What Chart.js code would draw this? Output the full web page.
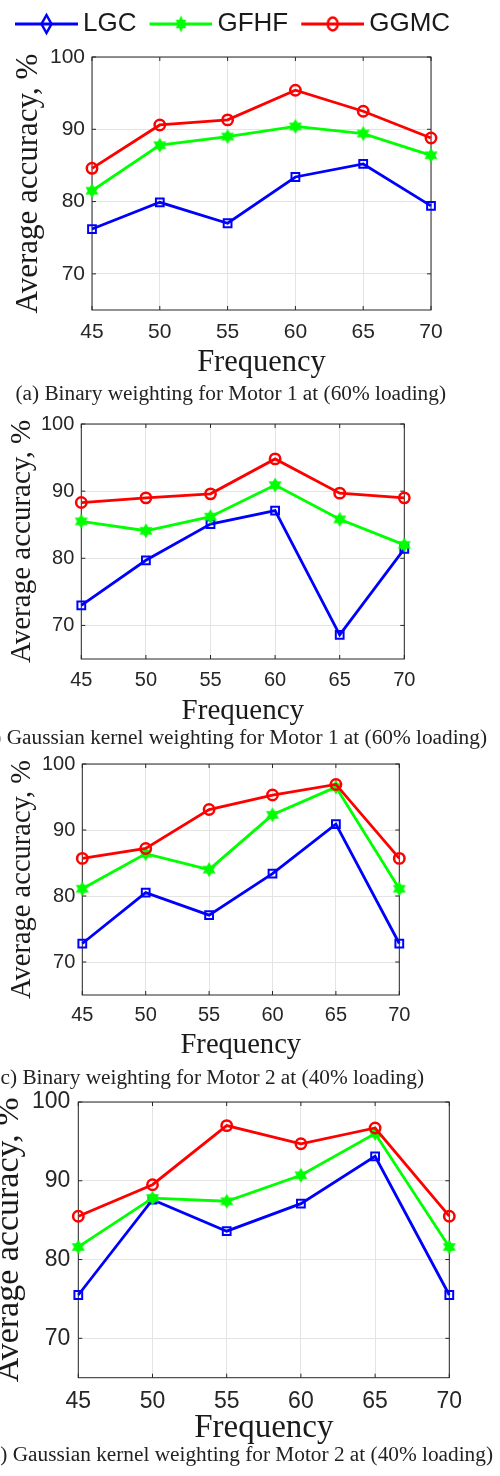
<!DOCTYPE html>
<html>
<head>
<meta charset="utf-8">
<script src="https://cdn.jsdelivr.net/npm/chart.js@4.4.1/dist/chart.umd.min.js"></script>
<style>
  html, body { margin: 0; padding: 0; background: #fff; }
  body { width: 500px; height: 1476px; position: relative; overflow: hidden; }
  canvas { position: absolute; left: 0; }
  .cap {
    position: absolute; white-space: nowrap; color: #222;
    font-family: "Liberation Serif", "Times New Roman", serif;
    font-size: 21.3px; line-height: 21.3px; transform: translateX(-100%);
  }
</style>
</head>
<body>
<canvas id="panelA"></canvas>
<canvas id="panelB"></canvas>
<canvas id="panelC"></canvas>
<canvas id="panelD"></canvas>
<div class="cap" style="left:446px; top:383px">(a) Binary weighting for Motor 1 at (60% loading)</div>
<div class="cap" style="left:487px; top:727px">(b) Gaussian kernel weighting for Motor 1 at (60% loading)</div>
<div class="cap" style="left:424px; top:1067px">(c) Binary weighting for Motor 2 at (40% loading)</div>
<div class="cap" style="left:493px; top:1444px">(d) Gaussian kernel weighting for Motor 2 at (40% loading)</div>
<script>
// Datos
const frecuencias = [45, 50, 55, 60, 65, 70];
const ticksY = [70, 80, 90, 100];
const metodos = ["LGC", "GFHF", "GGMC"];

// (a) Binary, Motor 1
const lgcA = [76.2, 79.9, 77.0, 83.4, 85.2, 79.4];
const gfhfA = [81.5, 87.8, 89.0, 90.4, 89.4, 86.4];
const ggmcA = [84.6, 90.6, 91.3, 95.4, 92.5, 88.8];
// (b) Gaussian, Motor 1
const lgcB = [73.0, 79.7, 85.1, 87.1, 68.6, 81.4];
const gfhfB = [85.5, 84.1, 86.2, 90.9, 85.8, 82.0];
const ggmcB = [88.3, 89.0, 89.6, 94.8, 89.7, 89.0];
// (c) Binary, Motor 2
const lgcC = [72.8, 80.5, 77.1, 83.4, 90.9, 72.8];
const gfhfC = [81.1, 86.4, 84.0, 92.3, 96.5, 81.1];
const ggmcC = [85.7, 87.2, 93.1, 95.3, 96.9, 85.7];
// (d) Gaussian, Motor 2
const lgcD = [75.5, 87.6, 83.6, 87.1, 93.1, 75.5];
const gfhfD = [81.6, 87.8, 87.4, 90.7, 96.0, 81.6];
const ggmcD = [85.5, 89.5, 97.0, 94.7, 96.7, 85.5];

const colores = ["#0000ff", "#00ff00", "#ff0000"];
const texto = "#262626";
const sans = "'Liberation Sans', Arial, sans-serif";
const serif = "'Liberation Serif', 'Times New Roman', serif";

Chart.defaults.font.family = sans;
Chart.defaults.color = texto;

// hexagrama relleno (marcador de GFHF)
function hexagrama(ctx, cx, cy, r, sy) {
  ctx.save();
  ctx.translate(cx, cy);
  ctx.scale(1, sy);
  ctx.beginPath();
  for (const giro of [-90, 90]) {
    for (let k = 0; k < 3; k++) {
      const ang = (giro + k * 120) * Math.PI / 180;
      const px = r * Math.cos(ang), py = r * Math.sin(ang);
      if (k === 0) ctx.moveTo(px, py); else ctx.lineTo(px, py);
    }
    ctx.closePath();
  }
  ctx.restore();
}

const estrella = document.createElement("canvas");
estrella.width = 18; estrella.height = 18;
{
  const g = estrella.getContext("2d");
  hexagrama(g, 9, 9, 7.5, 1);
  g.fillStyle = colores[1];
  g.fill();
}

// iconos de la leyenda: linea + marcador
function iconoLeyenda(i) {
  const c = document.createElement("canvas");
  c.width = 76; c.height = 26;
  const g = c.getContext("2d");
  const cx = 44.5, cy = 13;
  g.strokeStyle = colores[i];
  g.fillStyle = colores[i];
  g.lineWidth = 3;
  g.beginPath(); g.moveTo(13, cy); g.lineTo(76, cy); g.stroke();
  g.lineWidth = 2.5;
  if (i === 0) {
    g.beginPath();
    g.moveTo(cx, cy - 9); g.lineTo(cx + 5, cy); g.lineTo(cx, cy + 9); g.lineTo(cx - 5, cy);
    g.closePath(); g.stroke();
  } else if (i === 1) {
    hexagrama(g, cx, cy, 6, 1.45);
    g.fill();
  } else {
    g.beginPath(); g.ellipse(cx, cy, 5, 6.5, 0, 0, Math.PI * 2); g.stroke();
  }
  return c;
}
const iconos = [0, 1, 2].map(iconoLeyenda);

// caja de ejes con marcas hacia dentro
const cajaPlugin = {
  id: "caja",
  beforeDatasetsDraw(chart) {
    const { ctx, chartArea: a, scales } = chart;
    ctx.save();
    ctx.strokeStyle = texto;
    ctx.lineWidth = 1;
    ctx.strokeRect(a.left, a.top, a.right - a.left, a.bottom - a.top);
    ctx.beginPath();
    scales.x.ticks.forEach((t, i) => {
      const px = scales.x.getPixelForTick(i);
      ctx.moveTo(px, a.bottom); ctx.lineTo(px, a.bottom - 4);
      ctx.moveTo(px, a.top); ctx.lineTo(px, a.top + 4);
    });
    scales.y.ticks.forEach((t, i) => {
      const py = scales.y.getPixelForTick(i);
      ctx.moveTo(a.left, py); ctx.lineTo(a.left + 4, py);
      ctx.moveTo(a.right, py); ctx.lineTo(a.right - 4, py);
    });
    ctx.stroke();
    ctx.restore();
  }
};

function crearPanel(id, p, valores, conLeyenda) {
  const canvas = document.getElementById(id);
  const lhTitulo = p.tamTituloX * 1.2;
  const H = Math.ceil(p.tituloX - p.top + lhTitulo / 2);
  canvas.width = 500;
  canvas.height = H;
  canvas.style.top = p.top + "px";
  const padTop = conLeyenda ? 3 : 0;
  const padLeft = conLeyenda ? 2 : 0;

  const marcadores = [
    { pointStyle: "rect", pointRadius: 5.5, pointBorderWidth: 2, pointBackgroundColor: "rgba(0,0,0,0)" },
    { pointStyle: estrella, pointRadius: 7, pointBorderWidth: 1, pointBackgroundColor: colores[1] },
    { pointStyle: "circle", pointRadius: 5.2, pointBorderWidth: 2.5, pointBackgroundColor: "rgba(0,0,0,0)" },
  ];

  const datasets = metodos.map((nombre, i) => ({
    label: nombre,
    data: valores[i],
    borderColor: colores[i],
    backgroundColor: colores[i],
    pointBorderColor: colores[i],
    borderWidth: 2.8,
    tension: 0,
    order: 3 - i,
    ...marcadores[i],
  }));

  const rejilla = { color: "#e4e4e4", lineWidth: 1, drawTicks: false };

  new Chart(canvas, {
    type: "line",
    data: { labels: frecuencias, datasets },
    options: {
      responsive: false,
      animation: false,
      events: [],
      layout: { padding: { top: padTop, left: padLeft, right: 0, bottom: 0 } },
      plugins: {
        tooltip: { enabled: false },
        legend: {
          display: conLeyenda,
          position: "top",
          align: "start",
          labels: {
            usePointStyle: true,
            pointStyleWidth: 60,
            padding: 8,
            color: "#1a1a1a",
            font: { family: sans, size: 26, lineHeight: 1 },
            sort: (a, b) => a.datasetIndex - b.datasetIndex,
            generateLabels: (chart) =>
              Chart.defaults.plugins.legend.labels.generateLabels(chart).map((it) => ({
                ...it,
                pointStyle: iconos[it.datasetIndex],
              })),
          },
        },
      },
      scales: {
        x: {
          type: "category",
          offset: false,
          grid: rejilla,
          border: { display: false },
          ticks: {
            font: { size: p.tamTicks },
            color: texto,
            maxRotation: 0,
            autoSkip: false,
            padding: p.centroTicksX - p.plot.b - p.tamTicks * 0.6,
          },
          title: {
            display: true,
            text: "Frequency",
            color: "#1a1a1a",
            font: { family: serif, size: p.tamTituloX, lineHeight: 1.2 },
            padding: { top: 0, bottom: H - (p.tituloX - p.top) - lhTitulo / 2 },
          },
          afterFit: (s) => { s.height = H - (p.plot.b - p.top); },
        },
        x2: {
          type: "linear",
          axis: "x",
          position: "top",
          grid: { display: false },
          border: { display: false },
          ticks: { display: false },
          afterFit: (s) => {
            const ley = s.chart.legend ? s.chart.legend.height : 0;
            s.height = Math.max(0, p.plot.t - p.top - ley - padTop);
          },
        },
        y: {
          min: 65,
          max: 100,
          afterBuildTicks: (s) => { s.ticks = ticksY.map((v) => ({ value: v })); },
          grid: rejilla,
          border: { display: false },
          ticks: { font: { size: p.tamTicks }, color: texto, padding: p.gapY },
          title: {
            display: true,
            text: "Average accuracy, %",
            color: "#1a1a1a",
            font: { family: serif, size: p.tamTituloY, lineHeight: 1 },
            padding: { top: p.tituloY - padLeft - p.tamTituloY / 2, bottom: 0 },
          },
          afterFit: (s) => { s.width = p.plot.l - padLeft; },
        },
        y2: {
          type: "linear",
          axis: "y",
          position: "right",
          grid: { display: false },
          border: { display: false },
          ticks: { display: false },
          afterFit: (s) => { s.width = 500 - p.plot.r; },
        },
      },
    },
    plugins: [cajaPlugin],
  });
}

crearPanel("panelA",
  { top: 0, plot: { l: 92, t: 57, r: 431, b: 310 }, tamTicks: 21, gapY: 7, centroTicksX: 332,
    tamTituloX: 30.5, tituloX: 363, tamTituloY: 31, tituloY: 29 },
  [lgcA, gfhfA, ggmcA], true);

crearPanel("panelB",
  { top: 405, plot: { l: 81.3, t: 419.3, r: 404.3, b: 659 }, tamTicks: 20, gapY: 7, centroTicksX: 680,
    tamTituloX: 29, tituloX: 711, tamTituloY: 29, tituloY: 22 },
  [lgcB, gfhfB, ggmcB], false);

crearPanel("panelC",
  { top: 745, plot: { l: 82.3, t: 759.3, r: 399.3, b: 995 }, tamTicks: 20, gapY: 7, centroTicksX: 1015,
    tamTituloX: 28.6, tituloX: 1045, tamTituloY: 28.5, tituloY: 23 },
  [lgcC, gfhfC, ggmcC], false);

crearPanel("panelD",
  { top: 1080, plot: { l: 78.3, t: 1102, r: 449.3, b: 1377.7 }, tamTicks: 23, gapY: 8, centroTicksX: 1402,
    tamTituloX: 33, tituloX: 1428, tamTituloY: 34, tituloY: 9 },
  [lgcD, gfhfD, ggmcD], false);
</script>
</body>
</html>
